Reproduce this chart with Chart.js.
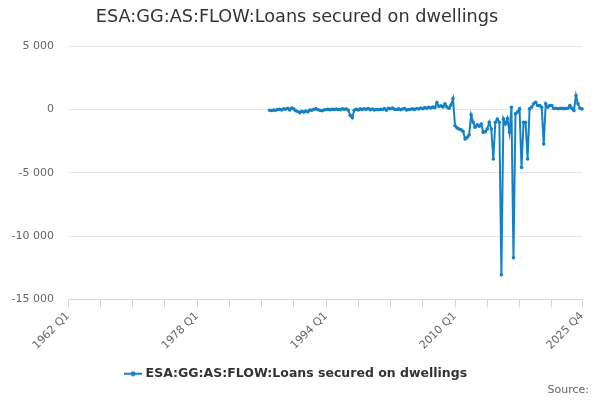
<!DOCTYPE html>
<html>
<head>
<meta charset="utf-8">
<script src="https://cdn.jsdelivr.net/npm/chart.js@4.4.0/dist/chart.umd.min.js"></script>
<style>
  html, body { margin: 0; padding: 0; background: #ffffff; }
  #wrap { position: relative; width: 600px; height: 400px; }
</style>
</head>
<body>
<div id="wrap"><canvas id="c" width="600" height="400"></canvas></div>
<script>
// ---- Data ----
const titleText = 'ESA:GG:AS:FLOW:Loans secured on dwellings';
const seriesName = 'ESA:GG:AS:FLOW:Loans secured on dwellings';
const firstYear = 1962;
const lastYear = 2025;
const seriesStart = '1987 Q1';
const seriesValues = [
  -50, -80, -30, -60, 0, 20, -40, 60, 30, 100,
  -40, 120, 50, -100, -150, -250, -130, -200, -120, -180,
  -30, -60, 20, 60, -20, -50, -100, -30, 0, 20,
  -10, 30, 0, 40, 10, -20, 60, 20, 40, -30,
  -450, -650, -60, 20, -30, 50, 0, 60, 20, 80,
  -20, 40, -30, 10, -20, 30, 0, 80, -50, 100,
  60, 120, 20, 0, 50, -20, 40, 80, -30, 0,
  20, 60, 10, 80, 40, 120, 60, 150, 100, 180,
  120, 200, 150, 550, 250, 300, 200, 450, 200, 100,
  350, 870, -1270, -1450, -1530, -1600, -1720, -2330, -2200, -2000,
  -420, -1000, -1400, -1210, -1320, -1140, -1800, -1750, -1530, -1000,
  -1530, -3900, -1000, -740, -1000, -13050, -740, -1140, -700, -1800,
  180, -11700, -340, -200, 50, -4580, -1000, -1000, -3900, 50,
  180, 450, 580, 320, 320, 180, -2720, 450, 180, 320,
  320, 80, 100, 60, 80, 90, 70, 80, 100, 320,
  100, -80, 1100, 450, 100, 50
];
const tickLabels = ['1962 Q1', '1978 Q1', '1994 Q1', '2010 Q1', '2025 Q4'];
const yTicks = [5000, 0, -5000, -10000, -15000];
const sourceText = 'Source:';

// ---- Build categories ----
const categories = [];
for (let y = firstYear; y <= lastYear; y++) {
  for (let q = 1; q <= 4; q++) categories.push(y + ' Q' + q);
}
const startIdx = categories.indexOf(seriesStart);
const data = categories.map((c, i) => {
  const k = i - startIdx;
  return (k >= 0 && k < seriesValues.length) ? seriesValues[k] : null;
});

const lineColor = '#1580c3';
const font = "'DejaVu Sans', Verdana, sans-serif";

// legend symbol: line with dot
const sym = document.createElement('canvas');
sym.width = 18; sym.height = 8;
(function () {
  const g = sym.getContext('2d');
  g.strokeStyle = lineColor; g.lineWidth = 2;
  g.beginPath(); g.moveTo(0, 4); g.lineTo(18, 4); g.stroke();
  g.fillStyle = lineColor;
  g.beginPath(); g.arc(9, 4, 2.5, 0, Math.PI * 2); g.fill();
})();

const sourcePlugin = {
  id: 'sourceText',
  afterDraw(chart) {
    const ctx = chart.ctx;
    ctx.save();
    ctx.font = '11px ' + font;
    ctx.fillStyle = '#666666';
    ctx.textAlign = 'right';
    ctx.textBaseline = 'middle';
    ctx.fillText(sourceText, 589, 390);
    ctx.restore();
  }
};

new Chart(document.getElementById('c'), {
  type: 'line',
  data: {
    labels: categories,
    datasets: [{
      label: seriesName,
      data: data,
      borderColor: lineColor,
      backgroundColor: lineColor,
      borderWidth: 2,
      pointRadius: 1.8,
      pointBorderWidth: 0,
      pointBackgroundColor: lineColor,
      tension: 0,
      spanGaps: false
    }]
  },
  options: {
    responsive: false,
    animation: false,
    layout: { padding: { left: 12, right: 18, top: 0, bottom: 10 } },
    plugins: {
      title: {
        display: true,
        text: titleText,
        color: '#333333',
        font: { family: font, size: 17.7, weight: 'normal' },
        padding: { top: 7, bottom: 18 }
      },
      legend: {
        position: 'bottom',
        labels: {
          color: '#333333',
          font: { family: font, size: 12.5, weight: 'bold' },
          usePointStyle: true,
          pointStyle: sym,
          padding: 10
        }
      },
      tooltip: { enabled: false }
    },
    scales: {
      x: {
        type: 'category',
        offset: false,
        afterBuildTicks(scale) {
          const t = [];
          for (let i = 0; i < categories.length; i += 16) t.push({ value: i });
          t.push({ value: categories.length - 1 });
          scale.ticks = t;
        },
        afterFit(scale) { scale.height = 58; },
        ticks: {
          autoSkip: false,
          maxRotation: 45,
          minRotation: 45,
          color: '#666666',
          font: { family: font, size: 11 },
          padding: 2,
          callback(value) {
            const lab = categories[value];
            return tickLabels.includes(lab) ? lab : '';
          }
        },
        grid: {
          drawOnChartArea: false,
          drawTicks: true,
          tickLength: 8,
          color: '#ccd6eb'
        },
        border: { display: true, color: '#ccd6eb', width: 1 }
      },
      y: {
        min: -15000,
        max: 5000,
        afterBuildTicks(scale) {
          scale.ticks = yTicks.map(v => ({ value: v }));
        },
        afterFit(scale) { scale.width = 56; },
        ticks: {
          color: '#666666',
          font: { family: font, size: 11 },
          padding: 14,
          callback(v) {
            const s = Math.abs(v).toString().replace(/\B(?=(\d{3})+(?!\d))/g, ' ');
            return (v < 0 ? '-' : '') + s;
          }
        },
        grid: { color: '#e6e6e6', drawTicks: false },
        border: { display: false }
      }
    }
  },
  plugins: [sourcePlugin]
});
</script>
</body>
</html>
